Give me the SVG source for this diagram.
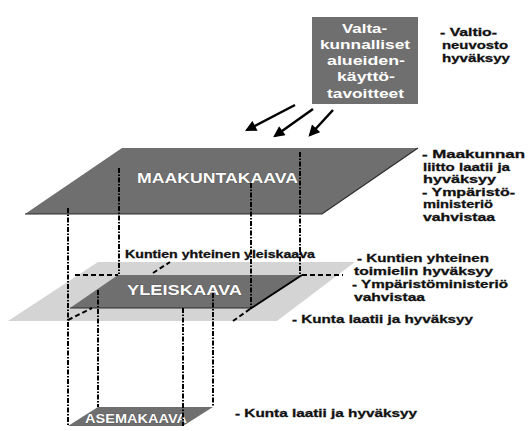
<svg xmlns="http://www.w3.org/2000/svg" width="530" height="431" viewBox="0 0 530 431">
<defs>
<marker id="ah" viewBox="0 0 10 10" refX="8" refY="5" markerWidth="5" markerHeight="4.5" orient="auto" markerUnits="strokeWidth">
<path d="M0,0 L10,5 L0,10 z" fill="#000"/>
</marker>
<style>
text{font-family:"Liberation Sans",Arial,sans-serif;font-weight:bold;}
.lbl{font-size:11.5px;fill:#111;stroke:#111;stroke-width:0.3;}
.box{font-size:13px;fill:#fff;}
.plane{fill:#fff;stroke:#444;stroke-width:0.6;paint-order:stroke;}
.dd{stroke:#000;stroke-width:2;fill:none;stroke-dasharray:5 1.5 1.5 1.5;}
.ds{stroke:#000;stroke-width:2;fill:none;stroke-dasharray:5 3;}
.arr{stroke:#000;stroke-width:2.5;fill:none;marker-end:url(#ah);}
</style>
</defs>
<rect width="530" height="431" fill="#fff"/>

<g id="node-tavoitteet">
<rect x="312" y="17" width="106" height="87" fill="#6f6f6f"/>
<text class="box" x="342" y="33" textLength="45" lengthAdjust="spacingAndGlyphs">Valta-</text>
<text class="box" x="320" y="49" textLength="90" lengthAdjust="spacingAndGlyphs">kunnalliset</text>
<text class="box" x="327" y="65" textLength="78" lengthAdjust="spacingAndGlyphs">alueiden-</text>
<text class="box" x="337" y="81" textLength="58" lengthAdjust="spacingAndGlyphs">käyttö-</text>
<text class="box" x="327" y="98" textLength="77" lengthAdjust="spacingAndGlyphs">tavoitteet</text>
</g>
<g id="note-valtioneuvosto">
<text class="lbl" x="440" y="36" textLength="57" lengthAdjust="spacingAndGlyphs">- Valtio-</text>
<text class="lbl" x="442" y="49" textLength="66" lengthAdjust="spacingAndGlyphs">neuvosto</text>
<text class="lbl" x="442" y="62" textLength="68" lengthAdjust="spacingAndGlyphs">hyväksyy</text>
</g>

<g id="node-maakuntakaava">
<polygon points="122,148 418,148 322,214 25,214" fill="#6f6f6f"/>
<polyline points="25,214 322,214 418,148" fill="none" stroke="#2a2a2a" stroke-width="1.2"/>
<text class="plane" x="137" y="183" font-size="15" textLength="161" lengthAdjust="spacingAndGlyphs">MAAKUNTAKAAVA</text>
</g>
<g id="note-maakunta">
<text class="lbl" x="422" y="158" textLength="103" lengthAdjust="spacingAndGlyphs">- Maakunnan</text>
<text class="lbl" x="423" y="171" textLength="87" lengthAdjust="spacingAndGlyphs">liitto laatii ja</text>
<text class="lbl" x="423" y="183" textLength="73" lengthAdjust="spacingAndGlyphs">hyväksyy</text>
<text class="lbl" x="422" y="196" textLength="93" lengthAdjust="spacingAndGlyphs">- Ympäristö-</text>
<text class="lbl" x="423" y="208" textLength="70" lengthAdjust="spacingAndGlyphs">ministeriö</text>
<text class="lbl" x="423" y="221" textLength="72" lengthAdjust="spacingAndGlyphs">vahvistaa</text>
</g>

<g id="node-yhteinen">
<polygon points="98,262 355,262 277,321 8,321" fill="#d4d4d4"/>
<text class="lbl" x="125" y="258" textLength="190" lengthAdjust="spacingAndGlyphs">Kuntien yhteinen yleiskaava</text>
</g>
<g id="node-yleiskaava">
<polygon points="118,275 302,275 250,308 70,308" fill="#6f6f6f"/>
<line x1="70" y1="308" x2="250" y2="308" stroke="#2a2a2a" stroke-width="1"/>
<text class="plane" x="127" y="295" font-size="14" textLength="115" lengthAdjust="spacingAndGlyphs">YLEISKAAVA</text>
</g>
<g id="note-yleiskaava">
<text class="lbl" x="357" y="262" textLength="132" lengthAdjust="spacingAndGlyphs">- Kuntien yhteinen</text>
<text class="lbl" x="354" y="275" textLength="139" lengthAdjust="spacingAndGlyphs">toimielin hyväksyy</text>
<text class="lbl" x="352" y="288" textLength="156" lengthAdjust="spacingAndGlyphs">- Ympäristöministeriö</text>
<text class="lbl" x="354" y="301" textLength="71" lengthAdjust="spacingAndGlyphs">vahvistaa</text>
<text class="lbl" x="292" y="323" textLength="181" lengthAdjust="spacingAndGlyphs">- Kunta laatii ja hyväksyy</text>
</g>

<g id="node-asemakaava">
<polygon points="98,407 213,407 183,426 68,426" fill="#6f6f6f"/>
<text class="plane" x="85" y="423" font-size="12" textLength="102" lengthAdjust="spacingAndGlyphs">ASEMAKAAVA</text>
</g>
<g id="note-asemakaava">
<text class="lbl" x="235" y="417" textLength="182" lengthAdjust="spacingAndGlyphs">- Kunta laatii ja hyväksyy</text>
</g>

<g id="connectors">
<line class="arr" x1="295" y1="105" x2="247" y2="130"/>
<line class="arr" x1="313" y1="109" x2="275" y2="136"/>
<line class="arr" x1="333" y1="110" x2="310" y2="135"/>

<line class="dd" x1="68" y1="208" x2="68" y2="426"/>
<line class="dd" x1="119" y1="168" x2="119" y2="274"/>
<line class="dd" x1="251" y1="183" x2="251" y2="308"/>
<line class="dd" x1="300" y1="152" x2="300" y2="275" stroke-width="1.5"/>
<line class="dd" x1="98" y1="290" x2="98" y2="407"/>
<line class="dd" x1="183" y1="308" x2="183" y2="426"/>
<line class="dd" x1="213" y1="293" x2="213" y2="407"/>

<line class="ds" x1="75" y1="275" x2="118" y2="275"/>
<line class="ds" x1="302" y1="275" x2="343" y2="275"/>
<line class="ds" x1="153" y1="273" x2="170" y2="262"/>
<line class="ds" x1="68" y1="320" x2="92" y2="308"/>
<line x1="302" y1="275" x2="250" y2="309" stroke="#000" stroke-width="2"/>
<line class="ds" x1="250" y1="309" x2="233" y2="321"/>
</g>
</svg>
